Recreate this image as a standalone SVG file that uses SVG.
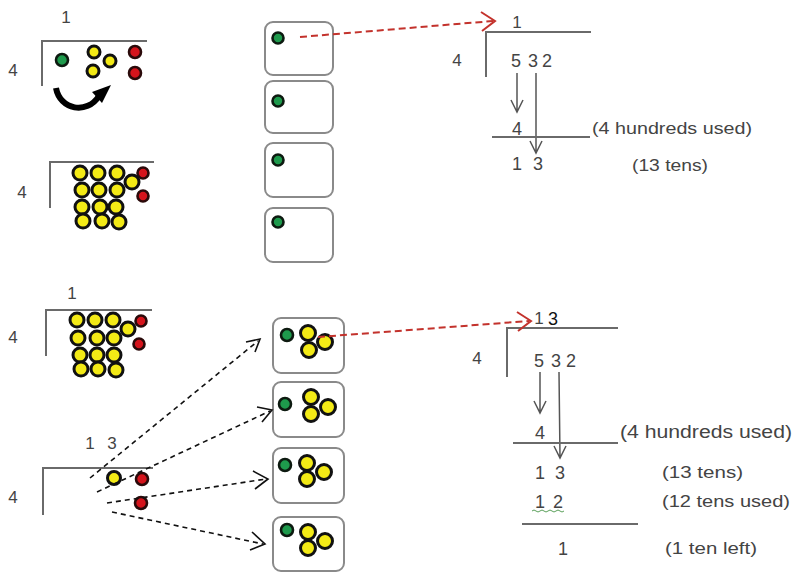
<svg xmlns="http://www.w3.org/2000/svg" width="794" height="572" viewBox="0 0 794 572">
<defs>
<style>
text{font-family:"Liberation Sans",Arial,sans-serif;fill:#444;font-size:17px}
.lbl{font-size:17px}
.mid{text-anchor:middle}
.ln{stroke:#6a6a6a;stroke-width:2;fill:none}
.box{fill:#fff;stroke:#8a8a8a;stroke-width:2}
.y{fill:#f3ea16;stroke:#111;stroke-width:3}
.r{fill:#d5141c;stroke:#2a0a0a;stroke-width:2.6}
.g{fill:#1e9a4c;stroke:#0d1a10;stroke-width:2.6}
.red{stroke:#c3322c;stroke-width:2;fill:none}
.rd{stroke-dasharray:7 4}
.bk{stroke:#111;stroke-width:1.6;fill:none}
.bd{stroke-dasharray:5 4}
.ar{stroke:#555;stroke-width:1.5;fill:none}
</style>
</defs>
<g id="panel1">
<text x="66" y="23" class="mid">1</text>
<text x="13" y="76" class="mid">4</text>
<path class="ln" d="M42 86V41H147"/>
<circle class="g" cx="62" cy="60" r="6"/>
<circle class="y" cx="94" cy="52" r="6"/>
<circle class="y" cx="110" cy="61" r="6"/>
<circle class="y" cx="93" cy="71" r="6"/>
<circle class="r" cx="135" cy="52" r="6"/>
<circle class="r" cx="135" cy="73" r="6"/>
<path d="M56 88C60 110 87 115 99 96" stroke="#000" stroke-width="6" fill="none"/>
<path d="M111 85L92 92L102 103Z" fill="#000"/>
</g>
<g id="panel2">
<text x="22" y="198" class="mid">4</text>
<path class="ln" d="M50 208V162H154"/>
<circle class="y" cx="80" cy="173" r="7"/>
<circle class="y" cx="98" cy="173" r="7"/>
<circle class="y" cx="117" cy="173" r="7"/>
<circle class="y" cx="82" cy="190" r="7"/>
<circle class="y" cx="99" cy="190" r="7"/>
<circle class="y" cx="117" cy="190" r="7"/>
<circle class="y" cx="82" cy="207" r="7"/>
<circle class="y" cx="100" cy="207" r="7"/>
<circle class="y" cx="116" cy="207" r="7"/>
<circle class="y" cx="83" cy="221" r="7"/>
<circle class="y" cx="102" cy="221" r="7"/>
<circle class="y" cx="119" cy="222" r="7"/>
<circle class="r" cx="143" cy="173" r="5.5"/>
<circle class="y" cx="132" cy="182" r="7"/>
<circle class="r" cx="143" cy="196" r="5.5"/>
</g>
<g id="boxesTop">
<rect class="box" x="265" y="22" width="68" height="53" rx="8"/>
<circle class="g" cx="278" cy="38" r="5.5"/>
<rect class="box" x="265" y="81" width="68" height="52" rx="8"/>
<circle class="g" cx="278" cy="101" r="5.5"/>
<rect class="box" x="265" y="143" width="68" height="54" rx="8"/>
<circle class="g" cx="278" cy="160" r="5.5"/>
<rect class="box" x="265" y="208" width="68" height="54" rx="8"/>
<circle class="g" cx="278" cy="222" r="5.5"/>
</g>
<g id="divTop">
<text x="517" y="28" class="mid">1</text>
<path class="ln" d="M486 77V32H591"/>
<text x="457" y="66" class="mid">4</text>
<text x="516" y="67" class="mid" style="font-size:18px">5</text>
<text x="533" y="67" class="mid" style="font-size:18px">3</text>
<text x="547" y="67" class="mid" style="font-size:18px">2</text>
<path class="ar" d="M517 73V112M511 100L517 112L523 100"/>
<path class="ar" d="M536 73V153M530 141L536 153L542 141"/>
<text x="517" y="135" class="mid" style="font-size:18px">4</text>
<path class="ln" d="M492 137H590"/>
<text x="517" y="170" class="mid" style="font-size:18px">1</text>
<text x="538" y="170" class="mid" style="font-size:18px">3</text>
<text x="592" y="134" class="lbl" textLength="160" lengthAdjust="spacingAndGlyphs">(4 hundreds used)</text>
<text x="632" y="171" class="lbl" textLength="76" lengthAdjust="spacingAndGlyphs">(13 tens)</text>
</g>
<g id="panel3">
<text x="72" y="299" class="mid">1</text>
<text x="13" y="343" class="mid">4</text>
<path class="ln" d="M46 356V310H152"/>
<circle class="y" cx="77" cy="320" r="7"/>
<circle class="y" cx="95" cy="320" r="7"/>
<circle class="y" cx="113" cy="320" r="7"/>
<circle class="y" cx="78" cy="338" r="7"/>
<circle class="y" cx="97" cy="338" r="7"/>
<circle class="y" cx="114" cy="338" r="7"/>
<circle class="y" cx="80" cy="355" r="7"/>
<circle class="y" cx="97" cy="355" r="7"/>
<circle class="y" cx="114" cy="355" r="7"/>
<circle class="y" cx="81" cy="369" r="7"/>
<circle class="y" cx="98" cy="369" r="7"/>
<circle class="y" cx="116" cy="370" r="7"/>
<circle class="r" cx="141" cy="321" r="5.5"/>
<circle class="y" cx="128" cy="329" r="7"/>
<circle class="r" cx="139" cy="344" r="5.5"/>
</g>
<g id="panel4">
<text x="90" y="449" class="mid">1</text>
<text x="112" y="449" class="mid">3</text>
<text x="13" y="503" class="mid">4</text>
<path class="ln" d="M43 515V468H153"/>
<circle class="y" cx="114" cy="478" r="6.5"/>
<circle class="r" cx="142" cy="479" r="6"/>
<circle class="r" cx="141" cy="503" r="6"/>
</g>
<g id="boxesBottom">
<rect class="box" x="273" y="318" width="71" height="55" rx="8"/>
<circle class="g" cx="287" cy="335" r="6"/>
<circle class="y" cx="308" cy="333" r="7.5"/>
<circle class="y" cx="309" cy="350" r="7.5"/>
<circle class="y" cx="325" cy="342" r="7.5"/>
<rect class="box" x="273" y="382" width="71" height="55" rx="8"/>
<circle class="g" cx="285" cy="404" r="6"/>
<circle class="y" cx="311" cy="397" r="7.5"/>
<circle class="y" cx="311" cy="414" r="7.5"/>
<circle class="y" cx="328" cy="407" r="7.5"/>
<rect class="box" x="273" y="448" width="71" height="55" rx="8"/>
<circle class="g" cx="285" cy="465" r="6"/>
<circle class="y" cx="307" cy="463" r="7.5"/>
<circle class="y" cx="307" cy="479" r="7.5"/>
<circle class="y" cx="324" cy="472" r="7.5"/>
<rect class="box" x="273" y="517" width="71" height="54" rx="8"/>
<circle class="g" cx="287" cy="530" r="6"/>
<circle class="y" cx="308" cy="532" r="7.5"/>
<circle class="y" cx="308" cy="548" r="7.5"/>
<circle class="y" cx="325" cy="541" r="7.5"/>
</g>
<g id="divBottom">
<text x="539" y="324" class="mid">1</text>
<text x="553" y="325" class="mid" style="fill:#111;font-size:18px">3</text>
<path class="ln" d="M507 377V328H618"/>
<text x="477" y="364" class="mid">4</text>
<text x="539" y="367" class="mid" style="font-size:18px">5</text>
<text x="556" y="367" class="mid" style="font-size:18px">3</text>
<text x="571" y="367" class="mid" style="font-size:18px">2</text>
<path class="ar" d="M540 372V413M534 401L540 413L546 401"/>
<path class="ar" d="M559 372L560 458M554 446L560 458L566 446"/>
<text x="540" y="439" class="mid" style="font-size:18px">4</text>
<path class="ln" d="M513 443H618"/>
<text x="540" y="479" class="mid" style="font-size:18px">1</text>
<text x="560" y="479" class="mid" style="font-size:18px">3</text>
<text x="540" y="508" class="mid" style="font-size:18px">1</text>
<text x="558" y="508" class="mid" style="font-size:18px">2</text>
<path d="M532 511q2 -2 4 0t4 0t4 0t4 0t4 0t4 0t4 0t4 0" stroke="#5aa05a" stroke-width="1" fill="none"/>
<path class="ln" d="M522 524H638"/>
<text x="563" y="555" class="mid" style="font-size:18px">1</text>
<text x="620" y="438" class="lbl" style="font-size:18px" textLength="172" lengthAdjust="spacingAndGlyphs">(4 hundreds used)</text>
<text x="662" y="478" class="lbl" textLength="81" lengthAdjust="spacingAndGlyphs">(13 tens)</text>
<text x="662" y="507" class="lbl" textLength="128" lengthAdjust="spacingAndGlyphs">(12 tens used)</text>
<text x="665" y="554" class="lbl" textLength="92" lengthAdjust="spacingAndGlyphs">(1 ten left)</text>
</g>
<g id="connectors">
<path class="red rd" d="M300 37L493 21"/>
<path class="red" d="M481 12L495 21L482 31"/>
<path class="red rd" d="M318 337L529 321"/>
<path class="red" d="M517 312L531 321L518 331"/>
<path class="bk bd" d="M90 478L258 341"/>
<path class="bk" d="M246 342L260 339L255 352"/>
<path class="bk bd" d="M97 492L270 411"/>
<path class="bk" d="M257 407L272 410L262 422"/>
<path class="bk bd" d="M107 503L266 479"/>
<path class="bk" d="M253 471L268 479L255 489"/>
<path class="bk bd" d="M112 512L263 544"/>
<path class="bk" d="M252 532L265 544L250 550"/>
</g>
</svg>
